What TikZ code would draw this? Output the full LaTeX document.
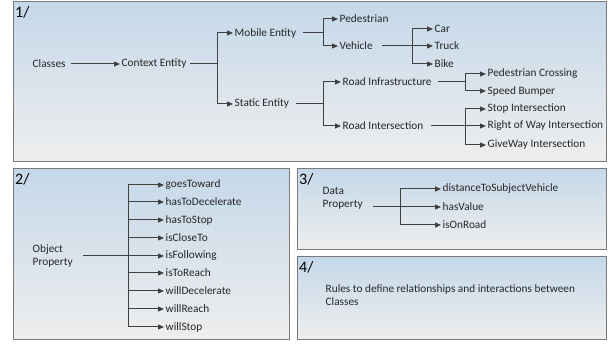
\documentclass[tikz,border=0pt]{standalone}
\usepackage{fontspec}
\setmainfont{Carlito}
\usetikzlibrary{arrows.meta}
\definecolor{ln}{HTML}{404040}
\definecolor{topc}{HTML}{C5D8E9}
\definecolor{botc}{HTML}{EEEEEE}
\definecolor{bord}{HTML}{7A7A7A}
\tikzset{
  panel/.style={draw=bord, line width=1pt, top color=topc, bottom color=botc},
  lbl/.style={font=\fontsize{16}{16}\selectfont, anchor=north west, inner sep=0pt, text=black},
  itm/.style={font=\fontsize{11.3}{13}\selectfont, anchor=west, inner xsep=1.5pt, inner ysep=1pt, text=black!85},
  ln/.style={draw=ln, line width=1pt},
  arr/.style={ln, -{Triangle[length=6pt, width=5pt]}}
}
\begin{document}
\begin{tikzpicture}[x=1pt, y=-1pt]
\useasboundingbox (0,0) rectangle (611,344);
% panels
\draw[panel] (13,2) rectangle (606,162);
\draw[panel] (13,169) rectangle (289,340);
\draw[panel] (297,169) rectangle (606,250);
\draw[panel] (297,257) rectangle (606,340);
\node[lbl] (l1) at (15,6) {1/};
\node[lbl] (l2) at (15,173) {2/};
\node[lbl] (l3) at (299,173) {3/};
\node[lbl] (l4) at (299,261) {4/};

% panel 1
\node[itm] (cls) at (31,64) {Classes};
\node[itm] (ctx) at (120,64) {Context Entity};
\node[itm] (mob) at (233,33) {Mobile Entity};
\node[itm] (sta) at (233,104) {Static Entity};
\node[itm] (ped) at (338,19) {Pedestrian};
\node[itm] (veh) at (338,46) {Vehicle};
\node[itm] (car) at (433,29) {Car};
\node[itm] (trk) at (433,46) {Truck};
\node[itm] (bik) at (433,64) {Bike};
\node[itm] (rinf) at (341,82) {Road Infrastructure};
\node[itm] (rint) at (341,126) {Road Intersection};
\node[itm] (pcr) at (486,74) {Pedestrian Crossing};
\node[itm] (spb) at (486,91) {Speed Bumper};
\node[itm] (sti) at (486,109) {Stop Intersection};
\node[itm] (rwi) at (486,126) {Right of Way Intersection};
\node[itm] (gwi) at (486,145) {GiveWay Intersection};

\draw[arr] ([xshift=4pt]cls.east) -- (ctx.west);
\coordinate (j1) at (217,64);
\draw[ln] ([xshift=2pt]ctx.east) -- (j1);
\draw[arr] (j1) |- (mob.west);
\draw[arr] (j1) |- (sta.west);
\coordinate (j2) at (323,33);
\draw[ln] ([xshift=5pt]mob.east) -- (j2);
\draw[arr] (j2) |- (ped.west);
\draw[arr] (j2) |- (veh.west);
\coordinate (j3) at (412,46);
\draw[arr] ([xshift=8pt]veh.east) -- (trk.west);
\draw[arr] (j3) |- (car.west);
\draw[arr] (j3) |- (bik.west);
\coordinate (j4) at (323,104);
\draw[ln] ([xshift=5pt]sta.east) -- (j4);
\draw[arr] (j4) |- (rinf.west);
\draw[arr] (j4) |- (rint.west);
\coordinate (j5) at (465,82);
\draw[ln] ([xshift=5pt]rinf.east) -- (j5);
\draw[arr] (j5) |- (pcr.west);
\draw[arr] (j5) |- (spb.west);
\coordinate (j6) at (465,126);
\draw[arr] ([xshift=6pt]rint.east) -- (rwi.west);
\draw[arr] (j6) |- (sti.west);
\draw[arr] (j6) |- (gwi.west);

% panel 2
\node[itm, align=left] (op) at (31,256) {Object\\Property};
\coordinate (j7) at (128,256);
\draw[ln] (83,256) coordinate (s7) -- (j7);
\foreach \n/\t/\y in {a/goesToward/185,b/hasToDecelerate/202,c/hasToStop/220,d/isCloseTo/238,e/isFollowing/256,f/isToReach/273,g/willDecelerate/291,h/willReach/309,i/willStop/327}{
  \node[itm] (o\n) at (164,\y) {\t};
  \draw[arr] (128,\y) -- (o\n.west);
}
\draw[ln] (128,185) -- (128,327);

% panel 3
\node[itm, align=left] (dp) at (321,198) {Data\\Property};
\node[itm] (da) at (441,189) {distanceToSubjectVehicle};
\node[itm] (db) at (441,207) {hasValue};
\node[itm] (dc) at (441,225) {isOnRoad};
\coordinate (j8) at (400,207);
\draw[arr] (373,207) -- (db.west);
\draw[arr] (j8) |- (da.west);
\draw[arr] (j8) |- (dc.west);

% panel 4
\node[itm, align=left, anchor=north west] (rules) at (324,283) {Rules to define relationships and interactions between\\Classes};
\end{tikzpicture}
\end{document}
